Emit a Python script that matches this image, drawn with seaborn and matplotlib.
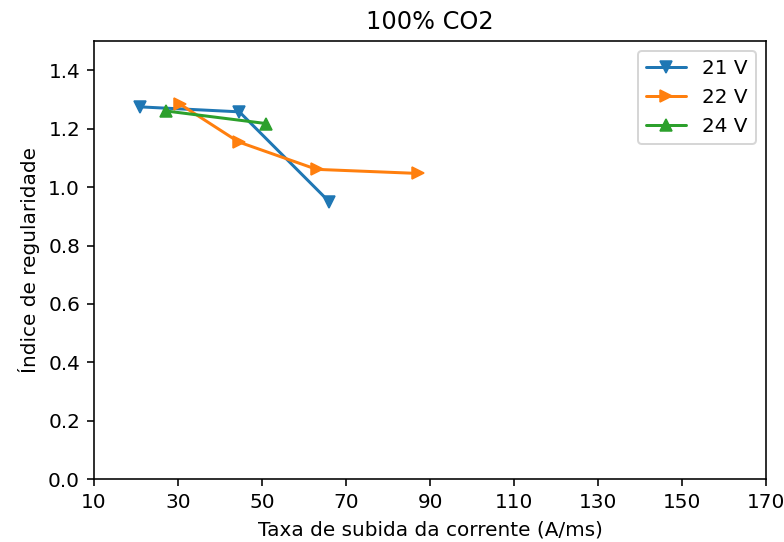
import matplotlib
matplotlib.use("Agg")
import matplotlib.pyplot as plt
import seaborn as sns
import pandas as pd

# Measured series: current rise rate (A/ms) vs regularity index
v21_x = [21, 44.6, 66]
v21_y = [1.275, 1.258, 0.95]
v22_x = [30.5, 44.4, 63, 87.2]
v22_y = [1.284, 1.155, 1.061, 1.047]
v24_x = [27.1, 50.9]
v24_y = [1.261, 1.218]

labels = ["21 V", "22 V", "24 V"]
markers = ["v", ">", "^"]
colors = ["#1f77b4", "#ff7f0e", "#2ca02c"]
x_ticks = [10, 30, 50, 70, 90, 110, 130, 150, 170]
y_ticks = [0.0, 0.2, 0.4, 0.6, 0.8, 1.0, 1.2, 1.4]

frames = []
for lab, xs, ys in zip(labels, [v21_x, v22_x, v24_x], [v21_y, v22_y, v24_y]):
    frames.append(pd.DataFrame({"x": xs, "y": ys, "serie": lab}))
df = pd.concat(frames, ignore_index=True)

sns.set_style("ticks")
plt.rcParams["font.family"] = ["DejaVu Sans"]
plt.rcParams.update({
    "text.color": "black",
    "axes.labelcolor": "black",
    "xtick.color": "black",
    "ytick.color": "black",
})

DPI = 144
fig, ax = plt.subplots(figsize=(784 / DPI, 542 / DPI), dpi=DPI)
fig.subplots_adjust(left=0.12, right=0.977, top=0.924, bottom=0.116)

for lab, mk, col in zip(labels, markers, colors):
    sub = df[df["serie"] == lab]
    sns.lineplot(data=sub, x="x", y="y", ax=ax, color=col, marker=mk,
                 markersize=6, markeredgecolor=col, linewidth=1.5,
                 label=lab, sort=False, estimator=None)

ax.set_xlim(10, 170)
ax.set_ylim(0, 1.5)
ax.set_xticks(x_ticks)
ax.set_yticks(y_ticks)
ax.set_yticklabels([f"{v:.1f}" for v in y_ticks])
ax.set_xlabel("Taxa de subida da corrente (A/ms)", fontsize=10)
ax.set_ylabel("Índice de regularidade", fontsize=10)
ax.set_title("100% CO2", fontsize=12)
ax.tick_params(labelsize=10, length=3.5, width=0.8)
for s in ax.spines.values():
    s.set_visible(True)
    s.set_color("black")
    s.set_linewidth(0.8)
ax.legend(loc="upper right", fontsize=10, frameon=True)

fig.savefig("out.png", dpi=DPI)
